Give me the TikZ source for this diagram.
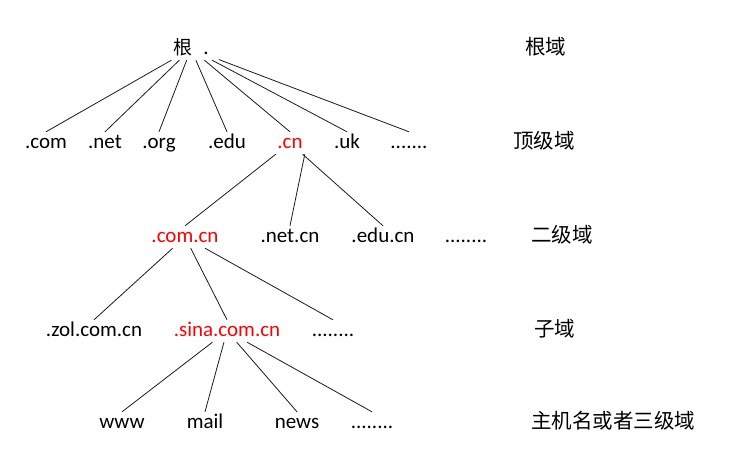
\documentclass[tikz,border=0pt]{standalone}
\usepackage{fontspec}
\usepackage{xcolor}
\usepackage{tikz}
\setmainfont{Carlito}
\newfontfamily\cjk{Noto Sans CJK SC}
\definecolor{hot}{HTML}{FF0000}
\definecolor{ink}{HTML}{1A1A1A}
\newcommand{\domfont}{\fontsize{21pt}{25pt}\selectfont}
\tikzset{
  twig/.style={draw=ink, line width=0.8pt},
  dom/.style={font=\domfont, text=black, anchor=base, inner sep=2pt, text height=14pt, text depth=4pt},
  hotdom/.style={dom, text=hot},
  tier/.style={font=\fontsize{20.5pt}{24pt}\selectfont\cjk, text=black, anchor=base west, inner sep=0pt},
}

\begin{document}
\begin{tikzpicture}[x=1pt,y=-1pt]
  \useasboundingbox (0,0) rectangle (742,463);

  % root
  \node[dom, inner xsep=10pt] (root) at (191,54) {{\cjk\fontsize{19pt}{23pt}\selectfont 根}\hspace{11pt}.};

  % top level
  \node[dom] (com) at (46,148) {.com};
  \node[dom] (net) at (105,148) {.net};
  \node[dom] (org) at (159,148) {.org};
  \node[dom] (edu) at (227,148) {.edu};
  \node[hotdom] (cn) at (290,148) {.cn};
  \node[dom] (uk) at (347,148) {.uk};
  \node[dom] (moretop) at (409,148) {.......};

  % second level
  \node[hotdom] (comcn) at (185,242) {.com.cn};
  \node[dom] (netcn) at (290,242) {.net.cn};
  \node[dom] (educn) at (383,242) {.edu.cn};
  \node[dom] (moresec) at (466,242) {........};

  % sub domains
  \node[dom] (zol) at (94,336) {.zol.com.cn};
  \node[hotdom] (sina) at (227,336) {.sina.com.cn};
  \node[dom] (moresub) at (333,336) {........};

  % hosts
  \node[dom] (www) at (122,428) {www};
  \node[dom] (mail) at (205,428) {mail};
  \node[dom] (news) at (297,428) {news};
  \node[dom] (morehost) at (372,428) {........};

  \foreach \kid in {com,net,org,edu,cn,uk,moretop}
    \draw[twig] (root) -- (\kid.north);
  \draw[twig] (cn) -- (comcn.north);
  \draw[twig] (cn.south east) -- (netcn.north);
  \draw[twig] (cn) -- (educn.north);
  \foreach \kid in {zol,sina,moresub}
    \draw[twig] (comcn) -- (\kid.north);
  \foreach \kid in {www,mail,news,morehost}
    \draw[twig] (sina) -- (\kid.north);

  % level names
  \node[tier] (troot) at (525,54) {根域};
  \node[tier] (ttop) at (513,148) {顶级域};
  \node[tier] (tsec) at (531,242) {二级域};
  \node[tier] (tsub) at (534,336) {子域};
  \node[tier] (thost) at (531,428) {主机名或者三级域};
\end{tikzpicture}
\end{document}
